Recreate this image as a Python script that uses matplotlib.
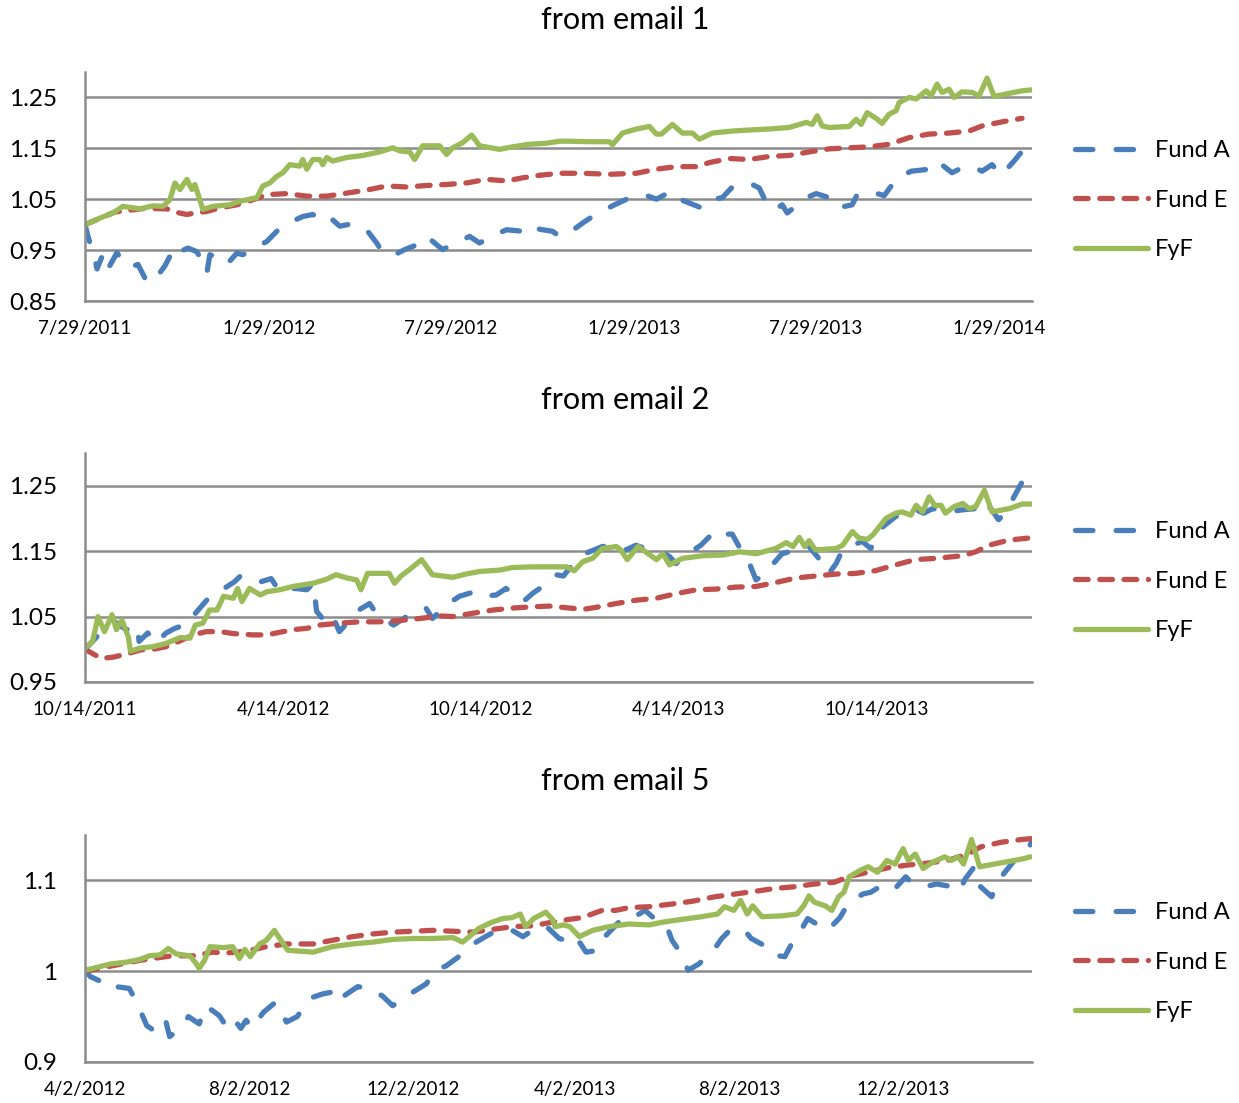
import matplotlib.pyplot as plt
import pandas as pd

plt.rcParams['font.family'] = ['Lato', 'DejaVu Sans']

BLUE = '#4a7ebb'
RED = '#c0504d'
GREEN = '#9bbb59'
GRID = '#8c8c8c'

# ---------------- email 1 : days counted from 7/29/2011 ----------------
e1_start = '2011-07-29'
e1_a_days = [0, 3, 10, 12, 18, 23, 32, 37, 45, 53, 60, 65, 72, 80, 90, 95, 103, 112, 118, 122,
             125, 135, 142, 152, 158, 167, 182, 192, 208, 218, 228, 235, 242, 255, 268, 283, 292,
             298, 310, 320, 333, 342, 358, 368, 385, 395, 410, 422, 438, 447, 455, 468, 475, 482,
             498, 508, 527, 542, 560, 572, 587, 598, 617, 623, 638, 647, 665, 675, 683, 690, 698,
             703, 722, 732, 745, 753, 768, 773, 790, 800, 813, 827, 845, 853, 868, 878, 888, 898,
             908, 917, 930, 940]
e1_a = [1.000, 0.977, 0.932, 0.913, 0.942, 0.913, 0.945, 0.929, 0.916, 0.922, 0.895, 0.885, 0.898,
        0.919, 0.957, 0.947, 0.954, 0.947, 0.925, 0.905, 0.941, 0.934, 0.922, 0.944, 0.941, 0.951,
        0.967, 0.987, 1.007, 1.016, 1.020, 1.013, 1.020, 0.997, 1.002, 0.987, 0.964, 0.945, 0.941,
        0.951, 0.961, 0.977, 0.951, 0.961, 0.977, 0.964, 0.980, 0.990, 0.987, 1.000, 0.991, 0.987,
        0.977, 0.980, 1.003, 1.016, 1.036, 1.050, 1.059, 1.050, 1.066, 1.048, 1.033, 1.048, 1.053,
        1.072, 1.082, 1.072, 1.039, 1.029, 1.039, 1.023, 1.053, 1.061, 1.053, 1.033, 1.039, 1.059,
        1.063, 1.057, 1.092, 1.105, 1.109, 1.125, 1.102, 1.112, 1.115, 1.105, 1.118, 1.097, 1.125,
        1.149]
e1_e_days = [0, 30, 60, 82, 92, 102, 110, 122, 135, 152, 168, 182, 202, 222, 242, 262, 282, 302,
             322, 342, 362, 382, 402, 422, 438, 455, 475, 498, 525, 552, 572, 592, 612, 625, 645,
             665, 685, 705, 725, 745, 765, 785, 805, 825, 845, 865, 885, 898, 918, 938]
e1_e = [1.000, 1.025, 1.032, 1.031, 1.024, 1.020, 1.023, 1.026, 1.033, 1.039, 1.049, 1.059, 1.061,
        1.056, 1.056, 1.062, 1.068, 1.076, 1.074, 1.077, 1.079, 1.082, 1.089, 1.086, 1.092, 1.097,
        1.101, 1.101, 1.099, 1.101, 1.109, 1.114, 1.114, 1.122, 1.130, 1.128, 1.134, 1.136, 1.143,
        1.149, 1.151, 1.153, 1.158, 1.171, 1.178, 1.180, 1.184, 1.194, 1.202, 1.209]
e1_f_days = [0, 15, 28, 38, 55, 68, 78, 85, 90, 95, 102, 107, 110, 118, 128, 145, 155, 172, 178,
             185, 192, 198, 205, 215, 218, 222, 228, 235, 238, 242, 248, 262, 278, 295, 308, 315,
             325, 330, 338, 355, 362, 368, 378, 387, 395, 415, 428, 445, 462, 475, 485, 505, 525,
             528, 538, 552, 565, 572, 577, 588, 598, 608, 615, 628, 648, 665, 685, 705, 722, 728,
             733, 738, 745, 765, 772, 777, 783, 792, 798, 805, 812, 815, 825, 832, 842, 847, 853,
             858, 865, 870, 878, 888, 895, 903, 910, 925, 938, 948]
e1_f = [1.000, 1.013, 1.023, 1.036, 1.031, 1.037, 1.036, 1.049, 1.082, 1.069, 1.089, 1.069, 1.079,
        1.030, 1.036, 1.039, 1.046, 1.053, 1.076, 1.082, 1.095, 1.102, 1.118, 1.115, 1.128, 1.109,
        1.128, 1.128, 1.118, 1.132, 1.125, 1.132, 1.136, 1.143, 1.151, 1.145, 1.143, 1.128, 1.155,
        1.155, 1.138, 1.151, 1.161, 1.176, 1.155, 1.148, 1.153, 1.158, 1.160, 1.164, 1.164, 1.163,
        1.163, 1.157, 1.180, 1.188, 1.193, 1.178, 1.178, 1.197, 1.180, 1.180, 1.168, 1.180, 1.184,
        1.186, 1.188, 1.191, 1.201, 1.197, 1.214, 1.194, 1.191, 1.193, 1.207, 1.197, 1.220, 1.209,
        1.199, 1.217, 1.224, 1.240, 1.250, 1.247, 1.263, 1.253, 1.276, 1.260, 1.266, 1.250, 1.261,
        1.260, 1.253, 1.288, 1.252, 1.258, 1.263, 1.265]
e1_ticks = ['2011-07-29', '2012-01-29', '2012-07-29', '2013-01-29', '2013-07-29', '2014-01-29']

# ---------------- email 2 : days counted from 10/14/2011 ----------------
e2_start = '2011-10-14'
e2_a_days = [0, 7, 25, 38, 48, 50, 58, 65, 75, 83, 97, 102, 114, 122, 138, 143, 152, 162, 172,
             180, 194, 205, 211, 214, 223, 229, 235, 245, 251, 263, 269, 285, 300, 315, 321, 334,
             346, 360, 368, 380, 389, 405, 414, 429, 435, 442, 454, 463, 478, 491, 500, 509, 521,
             531, 540, 546, 558, 569, 583, 589, 598, 607, 614, 620, 629, 635, 644, 657, 663, 669,
             677, 687, 694, 700, 718, 726, 737, 749, 761, 768, 775, 783, 798, 810, 823, 829, 838,
             844, 850, 860, 867]
e2_a = [1.000, 1.012, 1.045, 1.030, 1.037, 1.012, 1.025, 1.009, 1.025, 1.032, 1.040, 1.055, 1.078,
        1.086, 1.103, 1.111, 1.112, 1.103, 1.108, 1.088, 1.093, 1.091, 1.101, 1.058, 1.040, 1.050,
        1.027, 1.045, 1.058, 1.070, 1.055, 1.037, 1.053, 1.063, 1.047, 1.068, 1.081, 1.088, 1.081,
        1.083, 1.093, 1.073, 1.086, 1.103, 1.114, 1.112, 1.137, 1.147, 1.157, 1.159, 1.152, 1.159,
        1.152, 1.149, 1.142, 1.131, 1.147, 1.159, 1.182, 1.176, 1.176, 1.149, 1.131, 1.106, 1.116,
        1.129, 1.146, 1.152, 1.163, 1.157, 1.141, 1.115, 1.131, 1.152, 1.165, 1.154, 1.187, 1.203,
        1.208, 1.213, 1.208, 1.215, 1.210, 1.213, 1.215, 1.228, 1.213, 1.198, 1.208, 1.238, 1.259]
e2_e_days = [0, 15, 26, 39, 51, 63, 75, 88, 100, 112, 125, 137, 155, 168, 180, 192, 205, 217, 235,
             254, 272, 291, 309, 328, 340, 358, 377, 395, 414, 429, 448, 460, 472, 491, 509, 528,
             546, 565, 583, 601, 620, 638, 657, 675, 694, 712, 730, 749, 767, 786, 811, 823, 835,
             854, 872]
e2_e = [1.000, 0.986, 0.988, 0.993, 0.999, 1.000, 1.004, 1.013, 1.022, 1.027, 1.027, 1.024, 1.022,
        1.022, 1.026, 1.030, 1.032, 1.037, 1.040, 1.042, 1.042, 1.044, 1.047, 1.051, 1.050, 1.055,
        1.060, 1.063, 1.065, 1.066, 1.063, 1.061, 1.064, 1.070, 1.075, 1.078, 1.085, 1.091, 1.092,
        1.095, 1.096, 1.102, 1.109, 1.112, 1.115, 1.116, 1.120, 1.129, 1.137, 1.139, 1.143, 1.149,
        1.159, 1.167, 1.170]
e2_f_days = [0, 7, 12, 18, 25, 29, 34, 40, 42, 51, 63, 75, 88, 97, 102, 109, 115, 122, 128, 137,
             141, 145, 152, 162, 168, 180, 192, 211, 223, 232, 242, 251, 255, 261, 281, 286, 292,
             300, 311, 321, 340, 352, 365, 383, 395, 414, 429, 445, 452, 460, 469, 478, 491, 495,
             501, 511, 518, 528, 534, 540, 552, 571, 589, 605, 620, 638, 648, 654, 660, 665, 669,
             675, 694, 700, 709, 715, 723, 728, 740, 749, 755, 763, 768, 774, 780, 785, 791, 795,
             803, 811, 817, 823, 831, 838, 854, 866, 875]
e2_f = [1.002, 1.012, 1.050, 1.027, 1.053, 1.030, 1.045, 1.019, 0.997, 1.002, 1.004, 1.009, 1.018,
        1.017, 1.037, 1.040, 1.060, 1.060, 1.081, 1.078, 1.093, 1.073, 1.093, 1.083, 1.088, 1.091,
        1.096, 1.101, 1.107, 1.114, 1.109, 1.106, 1.091, 1.116, 1.116, 1.101, 1.112, 1.122, 1.137,
        1.114, 1.110, 1.115, 1.119, 1.121, 1.125, 1.126, 1.126, 1.126, 1.120, 1.134, 1.139, 1.154,
        1.157, 1.152, 1.137, 1.157, 1.149, 1.137, 1.146, 1.129, 1.139, 1.143, 1.144, 1.149, 1.146,
        1.154, 1.163, 1.157, 1.171, 1.157, 1.166, 1.152, 1.154, 1.159, 1.180, 1.170, 1.168, 1.175,
        1.200, 1.208, 1.210, 1.205, 1.220, 1.210, 1.233, 1.220, 1.220, 1.208, 1.218, 1.223, 1.215,
        1.218, 1.243, 1.210, 1.215, 1.222, 1.222]
e2_ticks = ['2011-10-14', '2012-04-14', '2012-10-14', '2013-04-14', '2013-10-14']

# ---------------- email 5 : days counted from 4/2/2012 ----------------
e5_start = '2012-04-02'
e5_a_days = [0, 4, 16, 21, 23, 33, 39, 46, 53, 60, 63, 71, 77, 85, 90, 100, 104, 109, 116, 120,
             124, 133, 142, 150, 158, 167, 177, 184, 187, 193, 203, 214, 222, 229, 242, 254, 261,
             269, 281, 289, 298, 308, 318, 326, 333, 343, 353, 358, 365, 373, 382, 387, 400, 407,
             417, 423, 433, 437, 443, 449, 457, 467, 474, 480, 488, 491, 496, 506, 511, 521, 526,
             533, 538, 548, 553, 562, 568, 579, 585, 595, 603, 611, 615, 625, 634, 642, 647, 652,
             655, 662, 666, 675, 681, 687, 694, 702, 705]
e5_a = [1.001, 0.994, 0.986, 0.988, 0.983, 0.981, 0.964, 0.940, 0.933, 0.946, 0.928, 0.937, 0.950,
        0.942, 0.962, 0.951, 0.942, 0.951, 0.937, 0.946, 0.937, 0.955, 0.966, 0.944, 0.950, 0.970,
        0.975, 0.977, 0.984, 0.973, 0.983, 0.980, 0.972, 0.962, 0.975, 0.986, 1.001, 1.006, 1.019,
        1.030, 1.038, 1.046, 1.045, 1.038, 1.045, 1.050, 1.036, 1.034, 1.039, 1.021, 1.023, 1.038,
        1.058, 1.058, 1.067, 1.059, 1.050, 1.034, 1.021, 1.001, 1.008, 1.021, 1.036, 1.045, 1.043,
        1.045, 1.036, 1.028, 1.018, 1.016, 1.030, 1.045, 1.058, 1.049, 1.045, 1.059, 1.074, 1.085,
        1.087, 1.096, 1.091, 1.104, 1.098, 1.093, 1.096, 1.094, 1.098, 1.091, 1.101, 1.115, 1.094,
        1.082, 1.102, 1.113, 1.126, 1.133, 1.144]
e5_e_days = [0, 41, 65, 82, 95, 105, 120, 135, 150, 170, 184, 199, 214, 229, 244, 259, 274, 289,
             303, 318, 333, 348, 360, 370, 385, 395, 405, 420, 437, 452, 469, 484, 499, 513, 528,
             543, 558, 568, 583, 598, 613, 627, 642, 657, 667, 682, 697, 704]
e5_e = [1.000, 1.012, 1.017, 1.017, 1.021, 1.020, 1.022, 1.027, 1.030, 1.030, 1.034, 1.038, 1.041,
        1.043, 1.044, 1.045, 1.044, 1.043, 1.046, 1.049, 1.050, 1.054, 1.057, 1.059, 1.067, 1.067,
        1.070, 1.071, 1.074, 1.077, 1.082, 1.085, 1.088, 1.091, 1.093, 1.096, 1.098, 1.104, 1.109,
        1.114, 1.117, 1.119, 1.122, 1.129, 1.137, 1.142, 1.145, 1.146]
e5_f_days = [0, 11, 19, 31, 41, 48, 56, 62, 68, 78, 82, 85, 89, 93, 103, 110, 115, 119, 123, 130,
             135, 141, 145, 151, 170, 184, 199, 214, 229, 244, 259, 274, 281, 286, 293, 303, 311,
             318, 324, 328, 334, 343, 348, 350, 356, 361, 368, 378, 390, 405, 420, 430, 444, 459,
             471, 476, 483, 488, 493, 497, 504, 519, 530, 535, 539, 543, 551, 556, 561, 565, 569,
             577, 583, 590, 597, 603, 609, 613, 618, 624, 631, 640, 645, 650, 654, 660, 666, 677,
             692, 699, 704]
e5_f = [1.001, 1.005, 1.008, 1.010, 1.013, 1.017, 1.018, 1.025, 1.019, 1.017, 1.010, 1.003, 1.012,
        1.027, 1.026, 1.027, 1.014, 1.024, 1.016, 1.030, 1.034, 1.045, 1.036, 1.023, 1.021, 1.027,
        1.030, 1.032, 1.035, 1.036, 1.036, 1.037, 1.032, 1.038, 1.047, 1.054, 1.058, 1.059, 1.063,
        1.049, 1.058, 1.065, 1.057, 1.049, 1.051, 1.049, 1.038, 1.045, 1.049, 1.052, 1.051, 1.054,
        1.057, 1.060, 1.063, 1.071, 1.067, 1.078, 1.063, 1.072, 1.060, 1.061, 1.063, 1.072, 1.083,
        1.076, 1.072, 1.067, 1.082, 1.087, 1.104, 1.111, 1.115, 1.109, 1.122, 1.118, 1.135, 1.122,
        1.129, 1.113, 1.120, 1.126, 1.122, 1.126, 1.118, 1.145, 1.115, 1.118, 1.122, 1.124, 1.126]
e5_ticks = ['2012-04-02', '2012-08-02', '2012-12-02', '2013-04-02', '2013-08-02', '2013-12-02']

panels = [
    dict(title='from email 1', start=e1_start, a=(e1_a_days, e1_a), e=(e1_e_days, e1_e),
         f=(e1_f_days, e1_f), ticks=e1_ticks, ylim=(0.85, 1.30),
         yticks=[0.85, 0.95, 1.05, 1.15, 1.25], ylabels=['0.85', '0.95', '1.05', '1.15', '1.25']),
    dict(title='from email 2', start=e2_start, a=(e2_a_days, e2_a), e=(e2_e_days, e2_e),
         f=(e2_f_days, e2_f), ticks=e2_ticks, ylim=(0.95, 1.30),
         yticks=[0.95, 1.05, 1.15, 1.25], ylabels=['0.95', '1.05', '1.15', '1.25']),
    dict(title='from email 5', start=e5_start, a=(e5_a_days, e5_a), e=(e5_e_days, e5_e),
         f=(e5_f_days, e5_f), ticks=e5_ticks, ylim=(0.9, 1.15),
         yticks=[0.9, 1.0, 1.1], ylabels=['0.9', '1', '1.1']),
]

# plot area top/bottom in pixels, plus the title row
W, H = 1239, 1103
boxes = [(72, 301, 20), (453, 682, 400), (835, 1062, 781)]
LEFT, RIGHT = 85, 1032

fig = plt.figure(figsize=(W / 100, H / 100), dpi=100)
LW = 3.8

for p, (top, bot, ty) in zip(panels, boxes):
    ax = fig.add_axes([LEFT / W, 1 - bot / H, (RIGHT - LEFT) / W, (bot - top) / H])
    start = pd.Timestamp(p['start'])

    def to_dates(days):
        return start + pd.to_timedelta(days, unit='D')

    la, = ax.plot(to_dates(p['a'][0]), p['a'][1], color=BLUE, lw=LW, label='Fund A',
                  dash_capstyle='round', dash_joinstyle='round')
    la.set_dashes((3.3, 4.4))
    le, = ax.plot(to_dates(p['e'][0]), p['e'][1], color=RED, lw=LW, label='Fund E',
                  dash_capstyle='round', dash_joinstyle='round')
    le.set_dashes((2.4, 2.2))
    ax.plot(to_dates(p['f'][0]), p['f'][1], color=GREEN, lw=LW, label='FyF',
            solid_joinstyle='round', solid_capstyle='round')

    last = max(p['a'][0][-1], p['e'][0][-1], p['f'][0][-1])
    ax.set_xlim(start, start + pd.Timedelta(days=last))
    ax.set_ylim(*p['ylim'])

    tick_dates = pd.to_datetime(p['ticks'])
    ax.set_xticks(tick_dates)
    ax.set_xticklabels([f'{d.month}/{d.day}/{d.year}' for d in tick_dates], fontsize=13.5)
    ax.set_yticks(p['yticks'])
    ax.set_yticklabels(p['ylabels'], fontsize=17.5)
    ax.tick_params(axis='both', length=0)
    ax.tick_params(axis='x', pad=14)
    ax.tick_params(axis='y', pad=20)

    ax.yaxis.grid(True, color=GRID, lw=1.8)
    ax.set_axisbelow(True)
    for side in ['top', 'right']:
        ax.spines[side].set_visible(False)
    for side in ['left', 'bottom']:
        ax.spines[side].set_color(GRID)
        ax.spines[side].set_linewidth(1.8)

    ax.legend(loc='center left', bbox_to_anchor=((1075 - LEFT) / (RIGHT - LEFT), 0.44),
              frameon=False, fontsize=17, handlelength=3.1, handletextpad=0.3,
              labelspacing=1.2, borderpad=0, borderaxespad=0)

    fig.text(625 / W, 1 - ty / H, p['title'], ha='center', va='center', fontsize=22)

fig.savefig('out.png', dpi=100)
